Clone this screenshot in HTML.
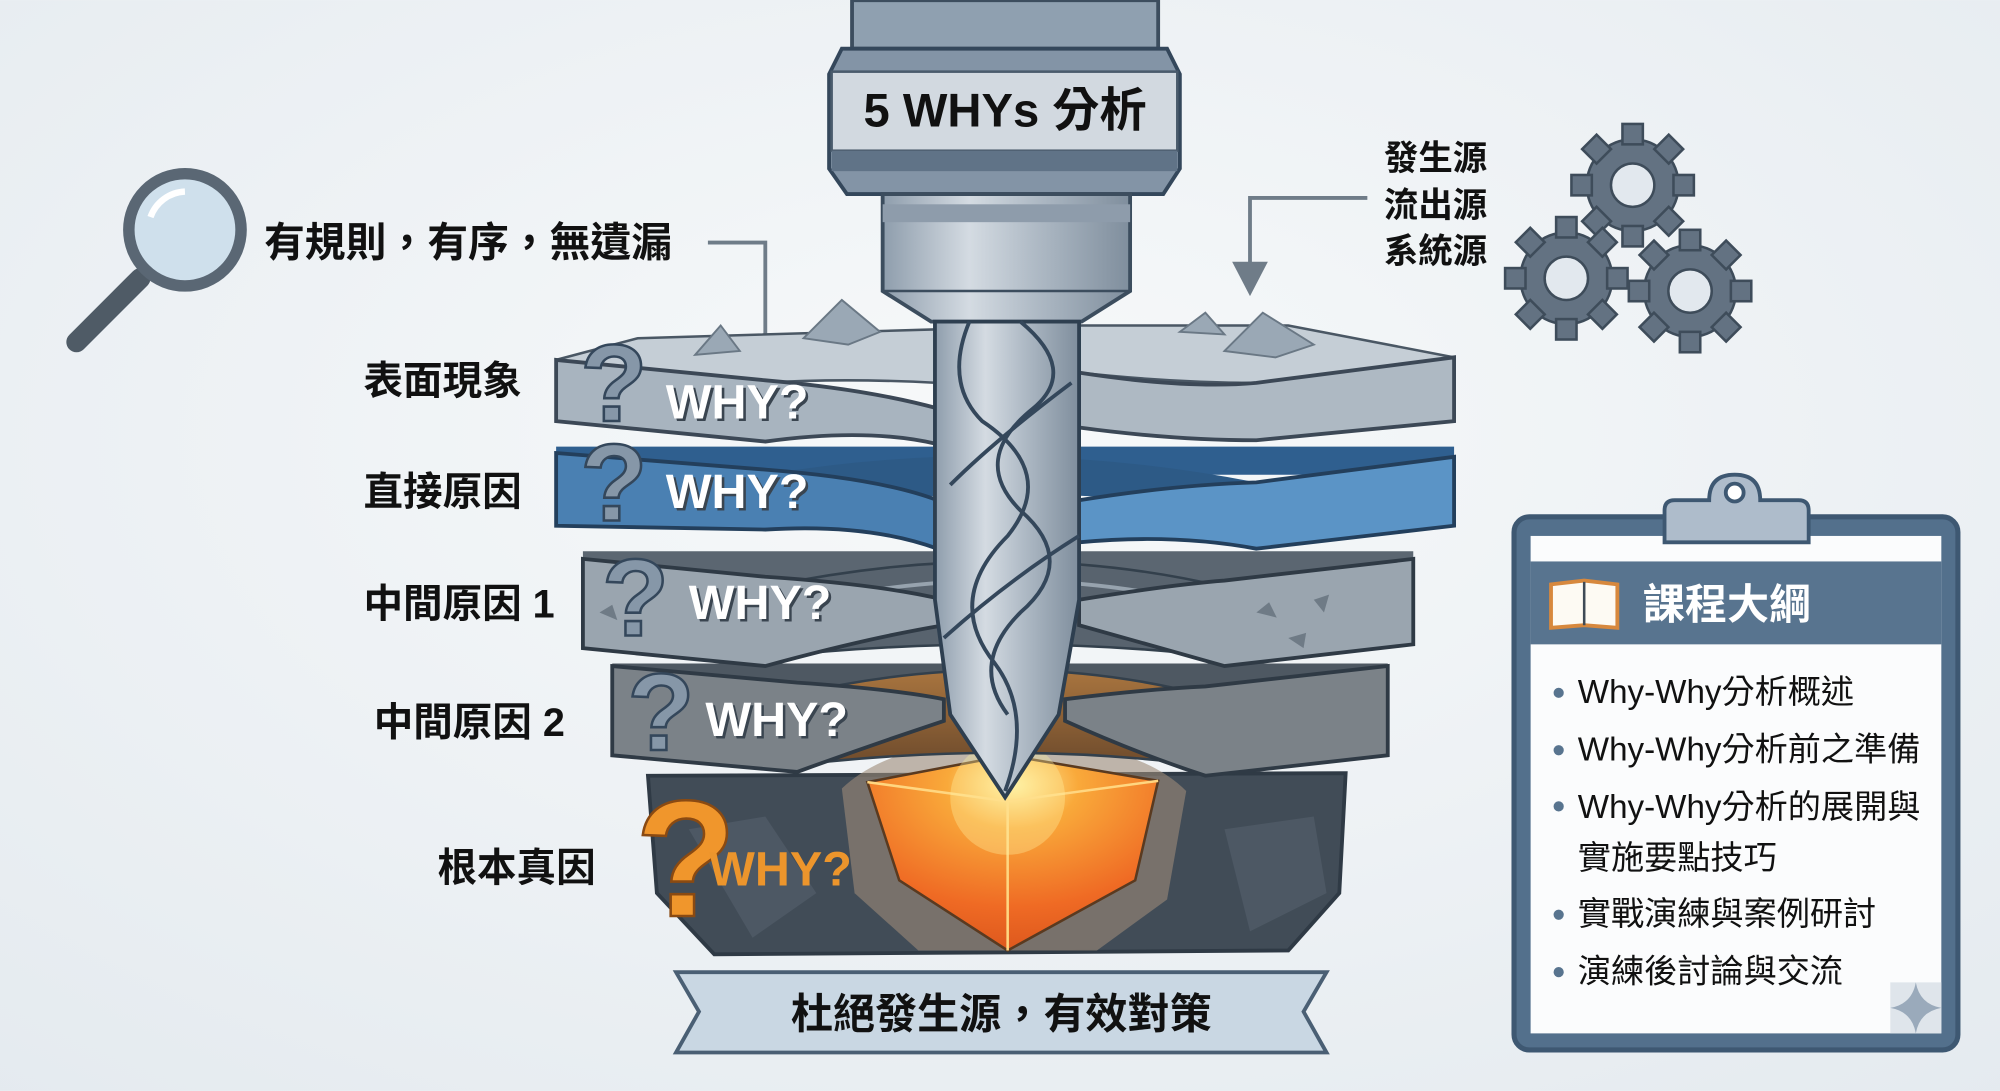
<!DOCTYPE html>
<html><head><meta charset="utf-8"><style>
html,body{margin:0;padding:0;width:2000px;height:1091px;overflow:hidden;background:#eef2f5}
svg{display:block}
text{font-family:"Liberation Sans","Noto Sans CJK TC",sans-serif;font-weight:bold}
</style></head><body>
<svg width="2000" height="1091" viewBox="0 0 1568 855" xmlns="http://www.w3.org/2000/svg">
<defs>
<radialGradient id="bg" cx="0.5" cy="0.4" r="0.8"><stop offset="0" stop-color="#f7f9fa"/><stop offset="1" stop-color="#e4eaef"/></radialGradient>
<radialGradient id="gem" cx="0.5" cy="0.15" r="0.9"><stop offset="0" stop-color="#fff3a8"/><stop offset="0.25" stop-color="#f9a93a"/><stop offset="0.7" stop-color="#ef6a24"/><stop offset="1" stop-color="#d9541c"/></radialGradient>
<linearGradient id="ring4" x1="0" y1="0" x2="0" y2="1"><stop offset="0" stop-color="#a9753f"/><stop offset="1" stop-color="#6e4b2c"/></linearGradient>
<linearGradient id="steel" x1="0" y1="0" x2="1" y2="0"><stop offset="0" stop-color="#8e9dac"/><stop offset="0.35" stop-color="#d4dbe2"/><stop offset="0.6" stop-color="#b1bcc7"/><stop offset="1" stop-color="#7f8e9d"/></linearGradient>
</defs>
<rect width="1568" height="855" fill="url(#bg)"/>

<!-- magnifier -->
<line x1="110" y1="218" x2="60" y2="268" stroke="#4f5b66" stroke-width="16" stroke-linecap="round"/>
<circle cx="145" cy="180" r="44" fill="#cfe0ec" stroke="#5a6774" stroke-width="9"/>
<path d="M118,170 A30,30 0 0 1 145,150" stroke="#fff" stroke-width="5" fill="none"/>

<!-- gears -->
<g fill="#637282" stroke="#3e4c5a" stroke-width="2">
<g transform="translate(1280,145)"><circle r="36"/><g id="teeth"><rect x="-8" y="-48" width="16" height="16"/><rect x="-8" y="32" width="16" height="16"/><rect x="-48" y="-8" width="16" height="16"/><rect x="32" y="-8" width="16" height="16"/><rect x="-8" y="-48" width="16" height="16" transform="rotate(45)"/><rect x="-8" y="-48" width="16" height="16" transform="rotate(135)"/><rect x="-8" y="-48" width="16" height="16" transform="rotate(225)"/><rect x="-8" y="-48" width="16" height="16" transform="rotate(315)"/></g><circle r="17" fill="#e2e8ee"/></g>
<g transform="translate(1228,218)"><circle r="36"/><use href="#teeth"/><circle r="17" fill="#e2e8ee"/></g>
<g transform="translate(1325,228)"><circle r="36"/><use href="#teeth"/><circle r="17" fill="#e2e8ee"/></g>
</g>

<!-- connectors -->
<polyline points="555,190 600,190 600,268" fill="none" stroke="#6f7c88" stroke-width="3"/>
<polyline points="1072,155 980,155 980,210" fill="none" stroke="#6f7c88" stroke-width="3"/>
<polygon points="966,205 994,205 980,232" fill="#6f7c88"/>

<!-- L5 bedrock -->
<path d="M508,608 L1055,606 L1050,700 L1010,745 L560,748 L515,700 Z" fill="#414c57" stroke="#2f3a45" stroke-width="3"/>
<path d="M540,650 L600,640 L640,700 L590,735 Z" fill="#4d5864"/><path d="M960,650 L1030,640 L1040,700 L980,730 Z" fill="#4d5864"/>
<path d="M660,618 Q700,580 790,580 Q890,580 930,620 L915,705 L860,745 L720,745 L670,700 Z" fill="#9c8b78" opacity="0.6"/>
<path d="M680,613 L790,592 L908,612 L890,690 L790,745 L705,690 Z" fill="url(#gem)" stroke="#5a3a20" stroke-width="2"/>
<line x1="790" y1="628" x2="790" y2="745" stroke="#ffd680" stroke-width="2"/>
<line x1="680" y1="613" x2="790" y2="628" stroke="#ffd680" stroke-width="2"/>
<line x1="908" y1="612" x2="790" y2="628" stroke="#ffd680" stroke-width="2"/>
<circle cx="790" cy="625" r="45" fill="#fff1a0" opacity="0.35"/>

<!-- L4 -->
<path d="M480,520 L1088,520 L1088,545 L480,545 Z" fill="#4e5862"/>
<path d="M620,545 Q790,505 945,545 L945,600 Q790,580 620,600 Z" fill="url(#ring4)" stroke="#33404c" stroke-width="2"/>
<path d="M480,522 L625,535 Q700,540 740,548 L740,565 Q680,585 625,605 L480,592 Z" fill="#7b8288" stroke="#2f3a45" stroke-width="3"/>
<path d="M835,548 Q900,540 945,538 L1088,522 L1088,592 L945,608 Q890,590 835,565 Z" fill="#7b8288" stroke="#2f3a45" stroke-width="3"/>

<!-- L3 -->
<path d="M457,432 L1108,432 L1108,460 L457,460 Z" fill="#5b6671"/>
<path d="M600,460 Q790,420 960,460 L960,515 Q790,495 600,515 Z" fill="#58636e" stroke="#33404c" stroke-width="2"/>
<path d="M640,470 Q790,440 930,470" stroke="#97a3ae" stroke-width="3" fill="none"/>
<path d="M457,438 L600,452 Q690,458 740,470 L740,490 Q680,500 600,522 L457,508 Z" fill="#9aa5af" stroke="#2f3a45" stroke-width="3"/>
<path d="M846,470 Q920,458 960,455 L1108,438 L1108,505 L960,522 Q900,505 846,490 Z" fill="#9aa5af" stroke="#2f3a45" stroke-width="3"/>
<g fill="#6f7b86"><path d="M985,480 l10,-8 l6,12z"/><path d="M1030,470 l12,-4 l-4,14z"/><path d="M1010,500 l14,-4 l-2,12z"/><path d="M470,480 l10,-6 l4,12z"/></g>

<!-- L2 blue -->
<path d="M436,350 L1140,350 L1140,372 L436,372 Z" fill="#2f5f8f"/>
<path d="M600,372 Q790,340 985,378 L985,400 Q790,375 600,400 Z" fill="#2d5a86"/>
<path d="M436,355 L600,368 Q690,375 735,392 L735,430 Q680,410 600,415 L436,412 Z" fill="#4a80b2" stroke="#233f5c" stroke-width="3"/>
<path d="M846,392 Q920,380 985,378 L1140,358 L1140,412 L985,430 Q920,418 846,425 Z" fill="#5b94c6" stroke="#233f5c" stroke-width="3"/>

<!-- L1 -->
<path d="M436,282 L500,265 L735,258 L735,300 Q660,296 600,300 Z" fill="#c5ced6" stroke="#4a5764" stroke-width="2"/>
<path d="M846,255 L1010,255 L1140,280 L985,300 Q920,300 846,292 Z" fill="#c5ced6" stroke="#4a5764" stroke-width="2"/>
<path d="M436,282 L600,298 Q680,305 735,320 L735,348 Q680,335 600,346 L436,330 Z" fill="#a8b4bf" stroke="#3c4856" stroke-width="3"/>
<path d="M846,292 Q930,305 985,300 L1140,280 L1140,330 L985,345 Q920,345 846,335 Z" fill="#aeb9c3" stroke="#3c4856" stroke-width="3"/>
<g fill="#9aa8b5" stroke="#6a7885" stroke-width="1.5"><path d="M545,278 L565,255 L580,275Z"/><path d="M630,265 L660,235 L690,260 L665,270Z"/><path d="M925,260 L945,245 L960,262Z"/><path d="M960,275 L990,245 L1030,270 L1000,280Z"/></g>

<!-- drill -->
<path d="M668,0 L908,0 L908,38 L668,38 Z" fill="#8fa0b0" stroke="#3c4d5e" stroke-width="3"/>
<path d="M660,38 L915,38 L925,58 L925,132 L912,152 L664,152 L650,132 L650,58 Z" fill="#8394a6" stroke="#34475b" stroke-width="3"/>
<rect x="652" y="56" width="271" height="62" fill="#d2d9e0" stroke="#4a5b6c" stroke-width="2"/>
<rect x="652" y="118" width="271" height="16" fill="#607387"/>
<text x="788" y="99" font-size="37" text-anchor="middle" fill="#111">5 WHYs 分析</text>
<path d="M692,152 L886,152 L886,228 L848,252 L730,252 L692,228 Z" fill="url(#steel)" stroke="#3c4d5e" stroke-width="3"/>
<rect x="692" y="160" width="194" height="14" fill="#8e9cab"/>
<line x1="692" y1="228" x2="886" y2="228" stroke="#3c4d5e" stroke-width="2"/>
<path d="M733,252 L846,252 L846,470 L830,560 L788,625 L745,560 L733,470 Z" fill="url(#steel)" stroke="#2e3f50" stroke-width="3"/>
<g fill="none" stroke="#34475b" stroke-width="3">
<path d="M760,252 Q740,300 770,330 Q830,370 790,420 Q740,470 780,520 Q810,560 788,620"/>
<path d="M800,252 Q846,290 810,320 Q760,360 800,400 Q846,440 800,480 Q760,520 790,560"/>
<path d="M840,300 Q780,345 745,380"/><path d="M846,420 Q790,455 740,500"/>
</g>

<!-- banner -->
<path d="M530,762 L1040,762 L1022,793 L1040,825 L530,825 L548,793 Z" fill="#c9d7e3" stroke="#4a5f74" stroke-width="3"/>
<text x="785" y="806" font-size="33" text-anchor="middle" fill="#111">杜絕發生源，有效對策</text>

<!-- left labels -->
<g fill="#111">
<text x="207" y="201" font-size="32">有規則，有序，無遺漏</text>
<text x="285" y="309" font-size="31">表面現象</text>
<text x="285" y="396" font-size="31">直接原因</text>
<text x="285" y="484" font-size="31">中間原因 1</text>
<text x="293" y="577" font-size="31">中間原因 2</text>
<text x="343" y="691" font-size="31">根本真因</text>
</g>
<g font-size="86" font-weight="bold" fill="#8697a8" stroke="#34475b" stroke-width="2">
<text x="455" y="330">?</text><text x="455" y="408">?</text><text x="472" y="498">?</text><text x="492" y="588">?</text>
</g>
<text x="498" y="718" font-size="130" fill="#f0962c" stroke="#8a4a12" stroke-width="2">?</text>
<g font-size="38" fill="#3a4550" transform="translate(2,2)">
<text x="522" y="328">WHY?</text><text x="522" y="398">WHY?</text><text x="540" y="485">WHY?</text><text x="553" y="577">WHY?</text>
</g>
<g font-size="38" fill="#fff">
<text x="522" y="328">WHY?</text><text x="522" y="398">WHY?</text><text x="540" y="485">WHY?</text><text x="553" y="577">WHY?</text>
</g>
<text x="556" y="694" font-size="38" fill="#ec952c">WHY?</text>

<!-- right labels -->
<g font-size="27" fill="#111">
<text x="1085" y="133">發生源</text><text x="1085" y="170">流出源</text><text x="1085" y="206">系統源</text>
</g>

<!-- clipboard -->
<rect x="1187" y="405" width="348" height="418" rx="12" fill="#53708c" stroke="#3e5872" stroke-width="4"/>
<rect x="1200" y="420" width="322" height="390" fill="#fbfcfd"/>
<rect x="1200" y="440" width="322" height="65" fill="#58748f"/>
<path d="M1305,425 L1305,400 Q1305,392 1313,392 L1340,392 Q1340,372 1360,372 Q1380,372 1380,392 L1410,392 Q1418,392 1418,400 L1418,425 Z" fill="#aebccb" stroke="#3e5872" stroke-width="3"/>
<circle cx="1360" cy="386" r="7" fill="#fff" stroke="#3e5872" stroke-width="3"/>
<path d="M1216,458 L1242,455 L1268,458 L1268,492 L1242,490 L1216,492 Z" fill="#fdfaf3" stroke="#d7883d" stroke-width="3"/>
<line x1="1242" y1="456" x2="1242" y2="490" stroke="#3e4a56" stroke-width="2"/>
<text x="1288" y="485" font-size="33" fill="#fff">課程大綱</text>
<g fill="#58748f"><circle cx="1222" cy="543" r="4"/><circle cx="1222" cy="588" r="4"/><circle cx="1222" cy="632" r="4"/><circle cx="1222" cy="717" r="4"/><circle cx="1222" cy="762" r="4"/></g>
<g font-size="26" fill="#111">
<text x="1237" y="551" style="font-weight:normal">Why-Why分析概述</text>
<text x="1237" y="596" style="font-weight:normal">Why-Why分析前之準備</text>
<text x="1237" y="641" style="font-weight:normal">Why-Why分析的展開與</text>
<text x="1237" y="681" style="font-weight:normal">實施要點技巧</text>
<text x="1237" y="725" style="font-weight:normal">實戰演練與案例研討</text>
<text x="1237" y="770" style="font-weight:normal">演練後討論與交流</text>
</g>
<rect x="1482" y="770" width="40" height="40" fill="#dfe5eb"/>
<path d="M1502,770 Q1505,787 1522,790 Q1505,793 1502,810 Q1499,793 1482,790 Q1499,787 1502,770Z" fill="#9aaabb"/>
</svg>
</body></html>
